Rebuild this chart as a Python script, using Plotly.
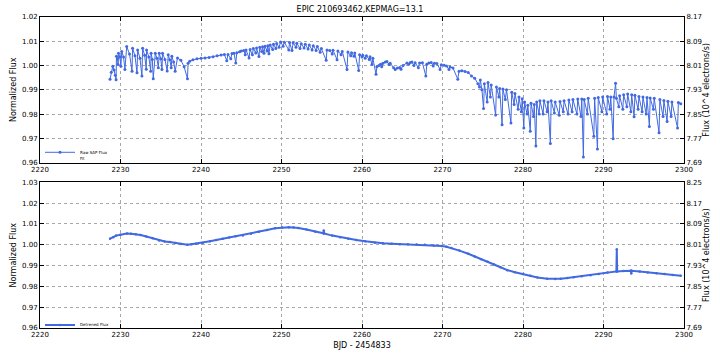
import plotly.graph_objects as go

title_text = "EPIC 210693462,KEPMAG=13.1"

# raw SAP flux (normalized)
raw_time = [
    2228.70, 2228.85, 2229.04, 2229.20, 2229.35, 2229.45,
    2229.50, 2229.62, 2229.70, 2229.75, 2229.92, 2230.05,
    2230.15, 2230.38, 2230.55, 2230.77, 2231.12, 2231.43,
    2231.50, 2231.80, 2232.05, 2232.13, 2232.42, 2232.66,
    2232.75, 2233.00, 2233.20, 2233.24, 2233.52, 2233.75,
    2233.80, 2233.95, 2234.07, 2234.32, 2234.52, 2234.70,
    2234.81, 2235.00, 2235.15, 2235.22, 2235.52, 2235.80,
    2235.93, 2236.12, 2236.30, 2236.38, 2236.60, 2236.79,
    2237.08, 2237.50, 2237.90, 2238.32,
    2238.40, 2238.60, 2239.00, 2239.50, 2240.00, 2240.50, 2241.00,
    2241.50, 2242.00, 2242.50, 2242.90, 2243.20, 2243.35, 2243.70,
    2243.85, 2244.10, 2244.32, 2244.45, 2244.80,
    2245.00, 2245.30, 2245.50, 2245.60, 2245.97, 2246.10, 2246.38,
    2246.50, 2246.80, 2246.90, 2247.20, 2247.30, 2247.55, 2247.65,
    2247.82, 2247.95, 2248.20, 2248.30, 2248.44, 2248.60, 2248.90,
    2249.00, 2249.30, 2249.40, 2249.70, 2249.88, 2250.20, 2250.35,
    2250.90, 2251.00, 2251.30, 2251.45, 2251.80, 2251.90, 2252.30,
    2252.45, 2252.80, 2252.95, 2253.30, 2253.45, 2253.80, 2253.95,
    2254.30, 2254.45, 2254.80, 2254.95, 2255.55,
    2255.65, 2256.00, 2256.30, 2256.40, 2256.90, 2257.00, 2257.40,
    2257.55, 2258.14, 2258.25, 2258.60, 2258.70, 2259.00, 2259.10,
    2259.59, 2259.70, 2260.00, 2260.10, 2260.40, 2260.55, 2260.90,
    2261.00, 2261.24, 2261.35, 2261.74, 2261.85, 2262.10, 2262.30,
    2262.45, 2262.60, 2262.90, 2263.10, 2263.35, 2263.50, 2263.93,
    2264.13, 2264.40, 2264.70, 2264.85, 2265.10, 2265.58, 2265.80,
    2266.00, 2266.20, 2266.45, 2266.60, 2267.00, 2267.15, 2267.50,
    2267.93, 2268.05, 2268.30, 2268.60, 2268.85, 2269.00, 2269.30,
    2269.70, 2269.85, 2270.20, 2270.50, 2270.80, 2270.95, 2271.30,
    2271.90, 2272.05, 2272.40, 2272.80, 2273.20, 2273.60, 2274.00,
    2274.40, 2274.60, 2274.70, 2274.90, 2275.10,
    2275.20, 2275.55, 2275.65, 2275.95, 2276.05, 2276.60, 2276.70,
    2277.00, 2277.10, 2277.40, 2277.50, 2277.80, 2277.95, 2278.50,
    2278.60, 2278.90, 2279.00, 2279.40, 2279.50, 2279.80, 2279.90,
    2280.10, 2280.20, 2280.50, 2280.60, 2280.90, 2281.00, 2281.30,
    2281.40, 2281.60, 2281.70, 2282.00, 2282.10, 2282.50, 2282.60,
    2283.00, 2283.10, 2283.40, 2283.50, 2283.90, 2284.00, 2284.50,
    2284.60, 2285.00, 2285.10, 2285.60, 2285.70, 2286.10, 2286.20,
    2286.70, 2286.80, 2287.20, 2287.30, 2287.50, 2287.60, 2288.00,
    2288.10, 2288.80, 2288.90, 2289.25, 2289.35, 2289.80, 2289.90,
    2290.40, 2290.50, 2290.80, 2290.90, 2291.20, 2291.30, 2291.50,
    2291.60, 2291.90, 2292.00, 2292.40, 2292.50, 2292.90, 2293.00,
    2293.40, 2293.50, 2293.80, 2293.90, 2294.30, 2294.40, 2294.80,
    2294.90, 2295.30, 2295.40, 2295.70, 2295.80, 2296.20, 2296.30,
    2296.90, 2297.00, 2297.40, 2297.50, 2297.90, 2298.00, 2298.40,
    2298.50, 2299.20, 2299.30, 2299.60,
]
raw_flux = [
    0.9944, 0.9972, 0.9997, 0.9982, 0.9960, 0.9942,
    1.0038, 1.0028, 1.0004, 1.0051, 1.0035, 0.9997,
    1.0058, 1.0035, 0.9984, 1.0078, 1.0048, 0.9977,
    1.0071, 1.0040, 0.9970, 1.0064, 1.0030, 0.9957,
    1.0071, 1.0042, 0.9985, 1.0064, 1.0035, 0.9977,
    1.0051, 1.0025, 0.9946, 1.0051, 1.0030, 0.9991,
    1.0051, 1.0028, 0.9984, 1.0051, 1.0025, 0.9978,
    1.0044, 1.0024, 0.9991, 1.0038, 1.0015, 0.9977,
    1.0031, 1.0022, 0.9995, 0.9946,
    1.0010, 1.0018, 1.0024, 1.0028, 1.0030, 1.0031, 1.0033,
    1.0036, 1.0040, 1.0043, 1.0046, 1.0020, 1.0046, 1.0028,
    1.0050, 1.0051, 1.0011, 1.0053, 1.0057,
    1.0060, 1.0062, 1.0045, 1.0064, 1.0031, 1.0066, 1.0044,
    1.0070, 1.0052, 1.0072, 1.0037, 1.0075, 1.0058, 1.0077,
    1.0051, 1.0080, 1.0060, 1.0082, 1.0049, 1.0085, 1.0066,
    1.0088, 1.0070, 1.0091, 1.0075, 1.0097, 1.0080, 1.0096,
    1.0064, 1.0095, 1.0062, 1.0094, 1.0075, 1.0092, 1.0070,
    1.0090, 1.0072, 1.0088, 1.0068, 1.0085, 1.0064, 1.0082,
    1.0062, 1.0078, 1.0055, 1.0070, 1.0022,
    1.0064, 1.0062, 1.0048, 1.0063, 1.0024, 1.0060, 1.0045,
    1.0058, 0.9984, 1.0056, 1.0040, 1.0053, 1.0038, 1.0052,
    0.9980, 1.0044, 1.0035, 1.0042, 1.0030, 1.0040, 1.0025,
    1.0036, 1.0004, 1.0030, 0.9964, 0.9995, 1.0000, 1.0005,
    0.9995, 1.0010, 1.0015, 1.0017, 1.0004, 1.0010, 0.9991,
    0.9984, 0.9990, 0.9992, 0.9985, 1.0000, 1.0011, 1.0005,
    1.0013, 1.0015, 1.0000, 1.0012, 0.9991, 1.0011, 1.0012,
    0.9957, 1.0005, 1.0011, 1.0013, 0.9998, 1.0010, 1.0008,
    0.9984, 1.0003, 1.0001, 0.9998, 0.9984, 0.9994, 0.9990,
    0.9944, 0.9977, 0.9979, 0.9976, 0.9971, 0.9957, 0.9948,
    0.9925, 0.9912, 0.9940, 0.9900, 0.9823,
    0.9925, 0.9850, 0.9930, 0.9870, 0.9920, 0.9796, 0.9912,
    0.9870, 0.9905, 0.9756, 0.9903, 0.9860, 0.9900, 0.9763,
    0.9890, 0.9840, 0.9885, 0.9820, 0.9870, 0.9810, 0.9863,
    0.9743, 0.9850, 0.9800, 0.9836, 0.9729, 0.9845, 0.9790,
    0.9840, 0.9669, 0.9850, 0.9800, 0.9855, 0.9800, 0.9855,
    0.9810, 0.9850, 0.9679, 0.9855, 0.9805, 0.9850, 0.9795,
    0.9852, 0.9810, 0.9855, 0.9800, 0.9858, 0.9810, 0.9860,
    0.9800, 0.9862, 0.9790, 0.9862, 0.9623, 0.9860, 0.9800,
    0.9865, 0.9709, 0.9865, 0.9656, 0.9868, 0.9810, 0.9870,
    0.9800, 0.9873, 0.9820, 0.9870, 0.9699, 0.9870, 0.9927,
    0.9865, 0.9830, 0.9876, 0.9820, 0.9880, 0.9830, 0.9883,
    0.9810, 0.9880, 0.9789, 0.9878, 0.9820, 0.9873, 0.9810,
    0.9870, 0.9800, 0.9868, 0.9749, 0.9866, 0.9820, 0.9865,
    0.9723, 0.9860, 0.9790, 0.9856, 0.9770, 0.9853, 0.9790,
    0.9850, 0.9743, 0.9848, 0.9843,
]

# detrended flux, lower panel
det_time = [
    2228.70, 2229.10, 2229.46, 2230.00, 2230.80, 2231.30, 2231.90,
    2232.50, 2233.20, 2234.00, 2234.80, 2235.50, 2236.10, 2236.80,
    2237.50, 2238.30, 2238.80, 2239.40, 2240.20, 2241.10, 2241.90,
    2242.70, 2243.50, 2244.30, 2245.20, 2246.20, 2247.20, 2248.20,
    2249.20, 2250.10, 2250.90, 2251.50, 2252.10, 2253.10, 2254.20,
    2255.20, 2255.25, 2255.30, 2256.30, 2257.30, 2258.30, 2259.30,
    2260.40, 2261.60, 2262.60, 2263.70, 2264.70, 2265.70, 2266.80,
    2267.80, 2268.90, 2269.90, 2270.50, 2271.10, 2272.10, 2273.20,
    2274.00, 2274.80, 2275.60, 2276.40, 2277.20, 2278.05, 2279.00,
    2280.00, 2280.90, 2281.80, 2283.00, 2284.00, 2284.70, 2285.50,
    2286.30, 2287.30, 2288.40, 2289.40, 2290.50, 2291.60, 2291.65,
    2291.70, 2292.50, 2293.40, 2293.45, 2293.50, 2294.50, 2295.50,
    2296.60, 2297.60, 2298.60, 2299.60,
]
det_flux = [
    1.0029, 1.0036, 1.0044, 1.0048, 1.0054, 1.0053, 1.0051,
    1.0047, 1.0040, 1.0031, 1.0021, 1.0016, 1.0013, 1.0008,
    1.0004, 1.0000, 1.0002, 1.0005, 1.0009, 1.0017, 1.0023,
    1.0029, 1.0035, 1.0041, 1.0045, 1.0053, 1.0063, 1.0071,
    1.0079, 1.0083, 1.0084, 1.0083, 1.0081, 1.0073, 1.0063,
    1.0055, 1.0068, 1.0054, 1.0044, 1.0036, 1.0029, 1.0023,
    1.0017, 1.0010, 1.0007, 1.0005, 1.0003, 1.0002, 1.0001,
    1.0000, 0.9997, 0.9994, 0.9990, 0.9984, 0.9972, 0.9957,
    0.9943, 0.9930, 0.9918, 0.9905, 0.9892, 0.9878, 0.9868,
    0.9859, 0.9851, 0.9843, 0.9837, 0.9836, 0.9837, 0.9840,
    0.9844, 0.9849, 0.9854, 0.9860, 0.9867, 0.9872, 0.9978,
    0.9872, 0.9874, 0.9875, 0.9862, 0.9875, 0.9871, 0.9867,
    0.9863, 0.9859, 0.9855, 0.9851,
]

# right-hand axis: flux in 10^4 electrons/s
top_flux_range = [7.69, 8.17]
bot_flux_range = [7.69, 8.25]
right_title = "Flux (10^4 electrons/s)"

blue = "royalblue"
grid = dict(showgrid=True, gridcolor="#a8a8a8", griddash="dot", gridwidth=1,
            zeroline=False, ticks="inside", ticklen=4, tickcolor="black",
            showline=True, linecolor="black", linewidth=1)
right = dict(side="right", tick0=7.69, dtick=0.08, tickformat=".2f", showgrid=False,
             zeroline=False, ticks="inside", ticklen=4, tickcolor="black",
             showline=True, linecolor="black",
             title=dict(text=right_title, font=dict(size=8), standoff=0))
leg = dict(xanchor="left", yanchor="middle", bgcolor="rgba(0,0,0,0)",
           font=dict(size=4), borderwidth=0)

fig = go.Figure()
fig.add_trace(go.Scatter(x=raw_time, y=raw_flux, mode="lines+markers", name="Raw SAP Flux",
                         line=dict(color=blue, width=1), marker=dict(size=3, color=blue),
                         xaxis="x", yaxis="y", legend="legend"))
fig.add_trace(go.Scatter(x=[None], y=[None], mode="lines", name="Fit",
                         line=dict(color="rgba(0,0,0,0)", width=1),
                         xaxis="x", yaxis="y", legend="legend2"))
fig.add_trace(go.Scatter(x=[None], y=[None], showlegend=False, xaxis="x", yaxis="y3"))
fig.add_trace(go.Scatter(x=det_time, y=det_flux, mode="lines+markers", name="Detrened Flux",
                         line=dict(color=blue, width=2), marker=dict(size=2.5, color=blue),
                         xaxis="x2", yaxis="y2", legend="legend3"))
fig.add_trace(go.Scatter(x=[None], y=[None], showlegend=False, xaxis="x2", yaxis="y4"))

fig.update_layout(
    width=720, height=360,
    margin=dict(l=37, r=36, t=17, b=27),
    paper_bgcolor="white", plot_bgcolor="white",
    font=dict(family="DejaVu Sans", size=7, color="black"),
    title=dict(text=title_text, x=0.5, xanchor="center", y=0.975, yanchor="middle",
               font=dict(size=8)),
    xaxis=dict(domain=[0, 1], anchor="y", range=[2220, 2300], dtick=10, mirror="ticks", **grid),
    yaxis=dict(domain=[0.5316, 1], anchor="x", range=[0.96, 1.02], dtick=0.01,
               tickformat=".2f", mirror=True,
               title=dict(text="Normalized Flux", font=dict(size=8), standoff=4), **grid),
    yaxis3=dict(overlaying="y", anchor="x", range=top_flux_range, **right),
    xaxis2=dict(domain=[0, 1], anchor="y2", range=[2220, 2300], dtick=10, mirror="ticks",
                title=dict(text="BJD - 2454833", font=dict(size=8), standoff=3), **grid),
    yaxis2=dict(domain=[0, 0.4684], anchor="x2", range=[0.96, 1.03], dtick=0.01,
                tickformat=".2f", mirror=True,
                title=dict(text="Normalized Flux", font=dict(size=8), standoff=4), **grid),
    yaxis4=dict(overlaying="y2", anchor="x2", range=bot_flux_range, **right),
    legend=dict(x=0.0, y=0.565, **leg),
    legend2=dict(x=0.0, y=0.546, **leg),
    legend3=dict(x=0.0, y=0.01, **leg),
)

# the page's default body margin would push the 720x360 figure off the window
fig.write_html("out.html", config={"displayModeBar": False},
               post_script="document.body.style.margin='0';")
